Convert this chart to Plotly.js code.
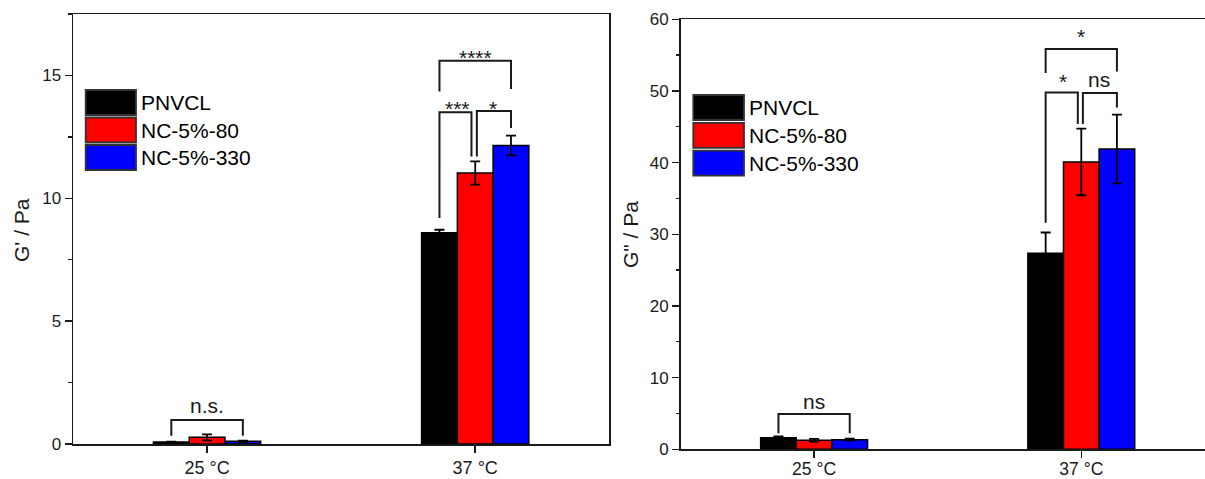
<!DOCTYPE html>
<html><head><meta charset="utf-8">
<script src="https://cdn.plot.ly/plotly-3.0.1.min.js"></script>
<style>html,body{margin:0;padding:0;overflow:hidden;background:#fff}</style>
</head><body><div id="chart" style="width:1205px;height:479px"></div>
<script>
// ---------------- data ----------------
const categories = ['25 °C', '37 °C'];
const seriesNames = ['PNVCL', 'NC-5%-80', 'NC-5%-330'];
const seriesColors = ['#000000', '#ff0000', '#0000ff'];

// G' (left panel)
const gPrimePNVCL = [0.08, 8.60];
const gPrimeNC80 = [0.27, 11.03];
const gPrimeNC330 = [0.11, 12.15];
const gPrimeErrPNVCL = [0.02, 0.12];
const gPrimeErrNC80 = [0.12, 0.47];
const gPrimeErrNC330 = [0.03, 0.40];

// G'' (right panel)
const gDoublePNVCL = [1.60, 27.35];
const gDoubleNC80 = [1.25, 40.10];
const gDoubleNC330 = [1.35, 41.90];
const gDoubleErrPNVCL = [0.20, 2.90];
const gDoubleErrNC80 = [0.20, 4.65];
const gDoubleErrNC330 = [0.15, 4.80];

const yTicksLeft = [0, 5, 10, 15];
const yTicksRight = [0, 10, 20, 30, 40, 50, 60];

// significance labels
const sigLabelsLeft = ['n.s.', '***', '*', '****'];
const sigLabelsRight = ['ns', '*', 'ns', '*'];

// ---------------- layout helpers ----------------
const W = 1205, H = 479;
const px = x => x / W;
const py = y => 1 - y / H;
const FONT = 'Liberation Sans, Arial, sans-serif';
const INK = '#1a1a1a';

const GROUP = 0.4;               // total group width in category units
const BARW = GROUP / 3;
const barX = (cat, s) => cat + (s - 1) * BARW;

function barTraces(vals, errs, xa, ya) {
  return seriesNames.map((n, i) => ({
    type: 'bar', name: n, x: categories, y: vals[i],
    xaxis: xa, yaxis: ya, showlegend: false,
    marker: {color: seriesColors[i], line: {color: '#000', width: 1.5}},
    error_y: {type: 'data', array: errs[i], visible: true, color: '#000', thickness: 1.8, width: 5}
  }));
}

const traces = [
  ...barTraces([gPrimePNVCL, gPrimeNC80, gPrimeNC330], [gPrimeErrPNVCL, gPrimeErrNC80, gPrimeErrNC330], 'x', 'y'),
  ...barTraces([gDoublePNVCL, gDoubleNC80, gDoubleNC330], [gDoubleErrPNVCL, gDoubleErrNC80, gDoubleErrNC330], 'x2', 'y2')
];

// bracket geometry: [cat, fromSeries, toSeries, fromDx, toDx, fromBottom, toBottom, top, labelY]
const bracketsLeft = [
  [0, 0, 2, 0, 0, 0.34, 0.34, 0.98, 1.47],
  [1, 0, 1, 0, -0.014, 9.2, 11.7, 13.5, 13.85],
  [1, 1, 2, 0.006, 0, 11.7, 12.86, 13.55, 13.85],
  [1, 0, 2, 0, 0, 14.35, 14.45, 15.6, 15.94]
];
const bracketsRight = [
  [0, 0, 2, 0, 0, 2.23, 2.23, 4.93, 6.46],
  [1, 0, 1, 0, -0.013, 31.6, 45.4, 49.8, 52.0],
  [1, 1, 2, 0.006, 0, 45.4, 47.7, 49.7, 51.3],
  [1, 0, 2, 0, 0, 52.5, 52.7, 55.85, 58.3]
];

const shapes = [];
const annotations = [];

function addBrackets(list, labels, xr, yr) {
  list.forEach((b, k) => {
    const [cat, s1, s2, d1, d2, b1, b2, top, ly] = b;
    const x1 = barX(cat, s1) + d1, x2 = barX(cat, s2) + d2;
    shapes.push({type: 'path', xref: xr, yref: yr,
      path: `M ${x1},${b1} L ${x1},${top} L ${x2},${top} L ${x2},${b2}`,
      line: {color: INK, width: 2}});
    const lab = labels[k];
    const isStar = /^\*+$/.test(lab);
    annotations.push({xref: xr, yref: yr, x: (barX(cat, s1) + barX(cat, s2)) / 2, y: ly,
      text: lab, showarrow: false, xanchor: 'center', yanchor: 'middle',
      yshift: isStar ? -4.8 : 2, font: {family: FONT, size: 21, color: INK}});
  });
}
addBrackets(bracketsLeft, sigLabelsLeft, 'x', 'y');
addBrackets(bracketsRight, sigLabelsRight, 'x2', 'y2');

// legends (drawn as shapes so the swatches match the large boxes)
function addLegend(x0, x1, yTop, pitch, textX) {
  seriesNames.forEach((n, i) => {
    const y0 = yTop + i * pitch, y1 = y0 + 25;
    shapes.push({type: 'rect', xref: 'paper', yref: 'paper', x0: px(x0), x1: px(x1), y0: py(y1), y1: py(y0),
      fillcolor: seriesColors[i], line: {color: '#333', width: 1.8}});
    annotations.push({xref: 'paper', yref: 'paper', x: px(textX), y: py((y0 + y1) / 2),
      text: n, showarrow: false, xanchor: 'left', yanchor: 'middle',
      font: {family: FONT, size: 21, color: '#000'}});
  });
}
addLegend(85.7, 136, 90, 27.5, 139);
addLegend(693.3, 744, 95, 27.8, 747);

// y-axis titles
annotations.push({xref: 'paper', yref: 'paper', x: px(22), y: py(230), text: "G' / Pa", textangle: -90,
  showarrow: false, xanchor: 'center', yanchor: 'middle', font: {family: FONT, size: 21, color: INK}});
annotations.push({xref: 'paper', yref: 'paper', x: px(630), y: py(235), text: 'G" / Pa', textangle: -90,
  showarrow: false, xanchor: 'center', yanchor: 'middle', font: {family: FONT, size: 21, color: INK}});

const axLine = {showline: true, linecolor: INK, linewidth: 1.5, showgrid: false, zeroline: false,
  ticks: 'outside', tickcolor: INK, tickwidth: 1.5, fixedrange: true};

const layout = {
  width: W, height: H, margin: {l: 0, r: 0, t: 0, b: 0},
  paper_bgcolor: '#fff', plot_bgcolor: '#fff',
  barmode: 'group', bargap: 1 - GROUP, bargroupgap: 0,
  font: {family: FONT, color: INK},
  showlegend: false,
  xaxis: Object.assign({}, axLine, {domain: [px(73), px(609.3)], range: [-0.5, 1.5], type: 'category',
    anchor: 'y', mirror: true, ticklen: 7, tickfont: {size: 18, color: INK}}),
  yaxis: Object.assign({}, axLine, {domain: [py(444), py(14)], range: [0, 17.5], anchor: 'x', mirror: true,
    tickvals: yTicksLeft, ticklen: 7, tickfont: {size: 17, color: INK},
    minor: {dtick: 2.5, tick0: 0, ticks: 'outside', ticklen: 3.5, tickcolor: INK, tickwidth: 1.3, showgrid: false}}),
  xaxis2: Object.assign({}, axLine, {domain: [px(680.5), 1], range: [-0.5, 1.463], type: 'category',
    anchor: 'y2', mirror: true, ticklen: 7, ticklabelstandoff: -4, tickfont: {size: 17.5, color: INK}}),
  yaxis2: Object.assign({}, axLine, {domain: [py(449.3), py(19.3)], range: [0, 60], anchor: 'x2', mirror: false,
    tickvals: yTicksRight, ticklen: 7, tickfont: {size: 17, color: INK},
    minor: {dtick: 5, tick0: 0, ticks: 'outside', ticklen: 3.5, tickcolor: INK, tickwidth: 1.3, showgrid: false}}),
  shapes: shapes,
  annotations: annotations
};

Plotly.newPlot('chart', traces, layout, {staticPlot: true, displayModeBar: false});
</script></body></html>
